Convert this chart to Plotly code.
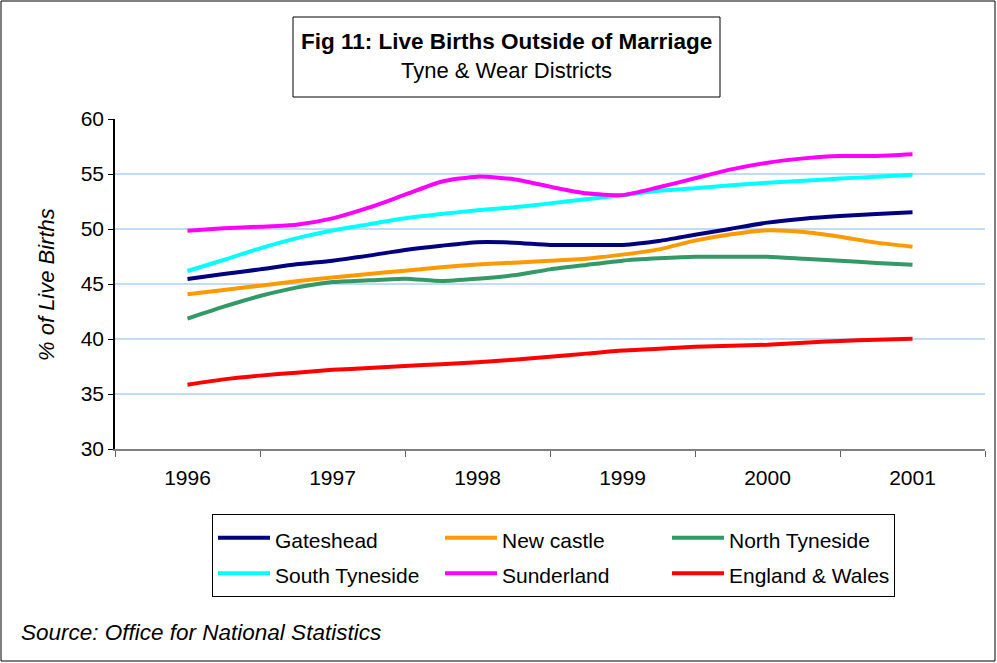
import plotly.graph_objects as go

# ---------------- data ----------------
x_positions = [1996.0, 1996.25, 1996.5, 1996.75,
               1997.0, 1997.25, 1997.5, 1997.75,
               1998.0, 1998.25, 1998.5, 1998.75,
               1999.0, 1999.25, 1999.5, 1999.75,
               2000.0, 2000.25, 2000.5, 2000.75,
               2001.0]

tick_years = [1996, 1997, 1998, 1999, 2000, 2001]
tick_labels = ["1996", "1997", "1998", "1999", "2000", "2001"]

gateshead = [45.45, 45.91, 46.33, 46.79, 47.12, 47.58, 48.09, 48.48, 48.80, 48.76, 48.55,
             48.55, 48.55, 48.91, 49.48, 50.03, 50.58, 50.94, 51.18, 51.36, 51.52]
newcastle = [44.06, 44.45, 44.85, 45.24, 45.60, 45.91, 46.21, 46.52, 46.78, 46.94, 47.12,
             47.30, 47.67, 48.15, 48.94, 49.52, 49.88, 49.73, 49.30, 48.76, 48.39]
north_tyneside = [41.85, 42.94, 43.91, 44.67, 45.18, 45.33, 45.48, 45.27, 45.48, 45.79, 46.33,
                  46.73, 47.12, 47.33, 47.48, 47.48, 47.48, 47.30, 47.12, 46.91, 46.76]
south_tyneside = [46.18, 47.18, 48.24, 49.15, 49.86, 50.42, 50.97, 51.36, 51.70, 51.97, 52.33,
                  52.70, 53.07, 53.48, 53.70, 53.97, 54.21, 54.39, 54.58, 54.76, 54.94]
sunderland = [49.85, 50.06, 50.21, 50.39, 50.97, 51.94, 53.12, 54.30, 54.76, 54.52, 53.85,
              53.24, 53.08, 53.79, 54.61, 55.42, 56.03, 56.42, 56.64, 56.64, 56.79]
england_wales = [35.85, 36.33, 36.67, 36.94, 37.20, 37.36, 37.55, 37.70, 37.88, 38.12, 38.39,
                 38.67, 38.95, 39.12, 39.30, 39.39, 39.48, 39.67, 39.82, 39.94, 40.03]

series_names = ["Gateshead", "New castle", "North Tyneside",
                "South Tyneside", "Sunderland", "England & Wales"]
series_values = [gateshead, newcastle, north_tyneside,
                 south_tyneside, sunderland, england_wales]
series_colors = ["#000080", "#FF9900", "#339966", "#00FFFF", "#FF00FF", "#FF0000"]

FONT = "Liberation Sans, Arial, sans-serif"

fig = go.Figure()
for name, vals, col in zip(series_names, series_values, series_colors):
    fig.add_trace(go.Scatter(
        x=x_positions, y=vals, mode="lines",
        name='<span style="font-size:21px">' + name + '</span>',
        line=dict(color=col, width=4, shape="spline", smoothing=0.6),
        hovertemplate=name + ": %{y:.1f}<extra></extra>",
    ))

fig.update_layout(
    width=997, height=663,
    margin=dict(l=115, r=12, t=119, b=214),
    paper_bgcolor="white", plot_bgcolor="white",
    font=dict(family=FONT, size=21, color="black"),
    showlegend=True,
    legend=dict(
        orientation="h", x=0.1115, xanchor="left", y=-0.197, yanchor="top",
        bordercolor="black", borderwidth=1, bgcolor="white",
        font=dict(family=FONT, size=25, color="black"),
        entrywidth=160, itemwidth=52, traceorder="normal",
    ),
    xaxis=dict(
        range=[1995.5, 2001.5], tickmode="array",
        tickvals=tick_years, ticktext=tick_labels,
        ticks="outside", ticklen=9, tickcolor="rgba(0,0,0,0)",
        showline=True, linecolor="#808080", linewidth=2,
        showgrid=False, zeroline=False,
        minor=dict(tick0=1995.5, dtick=1, ticks="outside", ticklen=6,
                   tickcolor="#606060", tickwidth=1, showgrid=False),
        tickfont=dict(family=FONT, size=21),
    ),
    yaxis=dict(
        range=[30, 60], tickmode="linear", tick0=30, dtick=5,
        ticks="outside", ticklen=5, tickcolor="black",
        showline=True, linecolor="black", linewidth=1.5,
        showgrid=True, gridcolor="rgb(192,220,248)", gridwidth=1.5,
        zeroline=False, tickfont=dict(family=FONT, size=21),
    ),
)

def px(xp):
    return (xp - 115) / 870.0

def py(yp):
    return (449 - yp) / 330.0

# outer chart border
fig.add_shape(type="rect", xref="paper", yref="paper",
              x0=px(1), x1=px(995), y0=py(661), y1=py(1),
              line=dict(color="black", width=1), layer="below")
# title box
fig.add_shape(type="rect", xref="paper", yref="paper",
              x0=px(293), x1=px(720), y0=py(97), y1=py(17),
              line=dict(color="black", width=1), fillcolor="white")

fig.add_annotation(xref="paper", yref="paper", x=px(506.5), y=py(42),
                   text="<b>Fig 11: Live Births Outside of Marriage</b>",
                   showarrow=False, xanchor="center", yanchor="middle",
                   font=dict(family=FONT, size=22.5, color="black"))
fig.add_annotation(xref="paper", yref="paper", x=px(506.5), y=py(71),
                   text="Tyne & Wear Districts",
                   showarrow=False, xanchor="center", yanchor="middle",
                   font=dict(family=FONT, size=22, color="black"))
fig.add_annotation(xref="paper", yref="paper", x=px(46), y=py(285),
                   text="<i>% of Live Births</i>", textangle=-90,
                   showarrow=False, xanchor="center", yanchor="middle",
                   font=dict(family=FONT, size=22, color="black"))
fig.add_annotation(xref="paper", yref="paper", x=px(19), y=py(632),
                   text="<i>Source: Office for National Statistics</i>",
                   showarrow=False, xanchor="left", yanchor="middle",
                   font=dict(family=FONT, size=22.5, color="black"))

fig.write_html("out.html", config={"displayModeBar": False},
               post_script="document.body.style.margin='0px';")
